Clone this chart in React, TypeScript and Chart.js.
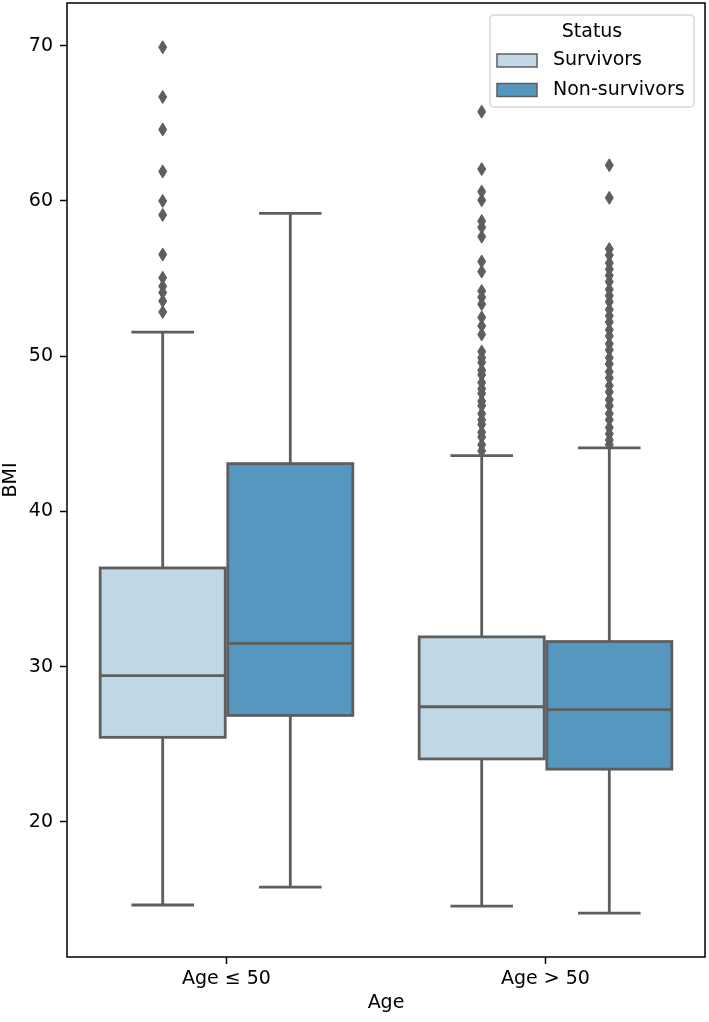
import React, { useEffect, useRef } from "react";
import { Chart, registerables } from "chart.js";

Chart.register(...registerables);

// ---------- data ----------
const categories = ["Age ≤ 50", "Age > 50"];
const seriesNames = ["Survivors", "Non-survivors"];
const yTicks = [20, 30, 40, 50, 60, 70];

const survivorsLow = [14.65, 14.58];
const survivorsQ1 = [25.45, 24.06];
const survivorsMedian = [29.42, 27.42];
const survivorsQ3 = [36.36, 31.92];
const survivorsHigh = [51.55, 43.6];
const survivorsOutliers = [
  [69.9, 66.7, 64.6, 61.9, 60.0, 59.1, 56.55, 55.05, 54.5, 54.1, 53.55, 52.85],
  [65.75, 62.05, 60.6, 60.05, 58.7, 58.3, 57.7, 56.1, 55.45, 54.2, 53.8, 53.35, 52.5, 51.95, 51.4,
    50.3, 49.9, 49.6, 49.1, 48.8, 48.3, 47.9, 47.6, 47.1, 46.8, 46.3, 45.9, 45.6, 45.1, 44.8, 44.3, 43.9],
];

const nonSurvivorsLow = [15.8, 14.13];
const nonSurvivorsQ1 = [26.86, 23.4];
const nonSurvivorsMedian = [31.5, 27.23];
const nonSurvivorsQ3 = [43.08, 31.62];
const nonSurvivorsHigh = [59.2, 44.1];
const nonSurvivorsOutliers = [
  [],
  [62.3, 60.2, 56.9, 56.5, 56.0, 55.6, 55.2, 54.8, 54.3, 53.9, 53.5, 53.0, 52.6, 52.2, 51.7, 51.3,
    50.8, 50.4, 49.9, 49.5, 49.0, 48.6, 48.1, 47.7, 47.2, 46.8, 46.3, 45.9, 45.4, 45.0, 44.6, 44.3],
];

const stats = [
  { low: survivorsLow, q1: survivorsQ1, med: survivorsMedian, q3: survivorsQ3, high: survivorsHigh, out: survivorsOutliers },
  { low: nonSurvivorsLow, q1: nonSurvivorsQ1, med: nonSurvivorsMedian, q3: nonSurvivorsQ3, high: nonSurvivorsHigh, out: nonSurvivorsOutliers },
];

// ---------- style ----------
const FILLS = ["#c0d7e6", "#5697c0"];
const GRAY = "#5e5e5e";
const FONT = "'DejaVu Sans', sans-serif";
const FS = 19;
const LW = 2.8;

const boxPlugin = {
  id: "boxDraw",
  afterDatasetsDraw(chart: any) {
    const ctx = chart.ctx;
    const y = chart.scales.y;
    ctx.save();
    chart.data.datasets.forEach((_ds: any, di: number) => {
      const meta = chart.getDatasetMeta(di);
      const s = stats[di];
      meta.data.forEach((bar: any, i: number) => {
        const { x, width } = bar.getProps(["x", "width"], true);
        const left = x - width / 2;
        const yLow = y.getPixelForValue(s.low[i]);
        const yQ1 = y.getPixelForValue(s.q1[i]);
        const yMed = y.getPixelForValue(s.med[i]);
        const yQ3 = y.getPixelForValue(s.q3[i]);
        const yHigh = y.getPixelForValue(s.high[i]);
        ctx.strokeStyle = GRAY;
        ctx.lineWidth = LW;
        ctx.lineCap = "butt";
        ctx.beginPath();
        ctx.moveTo(x, yQ1);
        ctx.lineTo(x, yLow);
        ctx.moveTo(x, yQ3);
        ctx.lineTo(x, yHigh);
        ctx.moveTo(x - width / 4, yLow);
        ctx.lineTo(x + width / 4, yLow);
        ctx.moveTo(x - width / 4, yHigh);
        ctx.lineTo(x + width / 4, yHigh);
        ctx.stroke();
        ctx.lineJoin = "miter";
        ctx.strokeRect(left, yQ3, width, yQ1 - yQ3);
        ctx.beginPath();
        ctx.moveTo(left, yMed);
        ctx.lineTo(left + width, yMed);
        ctx.stroke();
        // outliers: thin diamonds
        ctx.fillStyle = GRAY;
        ctx.lineWidth = 1;
        (s.out[i] || []).forEach((v: number) => {
          const py = y.getPixelForValue(v);
          ctx.beginPath();
          ctx.moveTo(x, py - 6.5);
          ctx.lineTo(x + 4, py);
          ctx.lineTo(x, py + 6.5);
          ctx.lineTo(x - 4, py);
          ctx.closePath();
          ctx.fill();
          ctx.stroke();
        });
      });
    });
    ctx.restore();
  },
  afterDraw(chart: any) {
    const ctx = chart.ctx;
    const a = chart.chartArea;
    ctx.save();
    // frame
    ctx.strokeStyle = "#000";
    ctx.lineWidth = 1.5;
    ctx.strokeRect(a.left, a.top, a.right - a.left, a.bottom - a.top);
    // legend
    const lx = 490, ly = 15, lw = 204, lh = 92, r = 4;
    ctx.beginPath();
    ctx.moveTo(lx + r, ly);
    ctx.lineTo(lx + lw - r, ly);
    ctx.arcTo(lx + lw, ly, lx + lw, ly + r, r);
    ctx.lineTo(lx + lw, ly + lh - r);
    ctx.arcTo(lx + lw, ly + lh, lx + lw - r, ly + lh, r);
    ctx.lineTo(lx + r, ly + lh);
    ctx.arcTo(lx, ly + lh, lx, ly + lh - r, r);
    ctx.lineTo(lx, ly + r);
    ctx.arcTo(lx, ly, lx + r, ly, r);
    ctx.closePath();
    ctx.fillStyle = "rgba(255,255,255,0.8)";
    ctx.fill();
    ctx.strokeStyle = "#d6d6d6";
    ctx.lineWidth = 1.5;
    ctx.stroke();
    ctx.fillStyle = "#000";
    ctx.font = `${FS}px ${FONT}`;
    ctx.textBaseline = "middle";
    ctx.textAlign = "center";
    ctx.fillText("Status", 592, 32);
    ctx.textAlign = "left";
    const rows = [60.5, 90];
    seriesNames.forEach((name, k) => {
      const cy = rows[k];
      ctx.fillStyle = FILLS[k];
      ctx.fillRect(497, cy - 6.5, 40, 13);
      ctx.strokeStyle = GRAY;
      ctx.lineWidth = 1.5;
      ctx.strokeRect(497, cy - 6.5, 40, 13);
      ctx.fillStyle = "#000";
      ctx.fillText(name, 553, cy);
    });
    ctx.restore();
  },
};

export default function App() {
  const ref = useRef<HTMLCanvasElement | null>(null);
  useEffect(() => {
    if (!ref.current) return;
    const chart = new Chart(ref.current, {
      type: "bar",
      data: {
        labels: categories,
        datasets: seriesNames.map((name, k) => ({
          label: name,
          data: categories.map((_c, i) => [stats[k].q1[i], stats[k].q3[i]]),
          backgroundColor: FILLS[k],
          borderWidth: 0,
          categoryPercentage: 0.8,
          barPercentage: 0.98,
        })),
      } as any,
      options: {
        responsive: false,
        animation: false,
        events: [],
        layout: { padding: { top: 3, right: 4, left: 0, bottom: 0 } },
        plugins: { legend: { display: false }, tooltip: { enabled: false } },
        scales: {
          x: {
            type: "category",
            offset: true,
            border: { display: false },
            grid: {
              display: true,
              offset: false,
              drawOnChartArea: false,
              drawTicks: true,
              tickLength: 7,
              tickWidth: 1.5,
              tickColor: "#000",
            },
            ticks: { color: "#000", font: { family: FONT, size: FS }, padding: 4, maxRotation: 0 },
            title: {
              display: true,
              text: "Age",
              color: "#000",
              font: { family: FONT, size: FS },
              padding: { top: 0, bottom: 8 },
            },
            afterFit: (scale: any) => {
              scale.height = 65;
              scale.paddingLeft = 0;
              scale.paddingRight = 0;
            },
          },
          y: {
            type: "linear",
            min: 11.3,
            max: 72.75,
            border: { display: false },
            grid: {
              display: true,
              drawOnChartArea: false,
              drawTicks: true,
              tickLength: 7,
              tickWidth: 1.5,
              tickColor: "#000",
            },
            afterBuildTicks: (scale: any) => {
              scale.ticks = yTicks.map((v) => ({ value: v }));
            },
            ticks: { color: "#000", font: { family: FONT, size: FS }, padding: 7 },
            title: {
              display: true,
              text: "BMI",
              color: "#000",
              font: { family: FONT, size: FS },
              padding: { top: 0, bottom: 0 },
            },
            afterFit: (scale: any) => {
              scale.width = 67;
              scale.paddingTop = 0;
              scale.paddingBottom = 0;
            },
          },
        },
      } as any,
      plugins: [boxPlugin],
    });
    return () => chart.destroy();
  }, []);
  return (
    <div style={{ position: "absolute", left: 0, top: 0, width: 709, height: 1022, background: "#fff" }}>
      <canvas ref={ref} width={709} height={1022} style={{ display: "block" }} />
    </div>
  );
}
